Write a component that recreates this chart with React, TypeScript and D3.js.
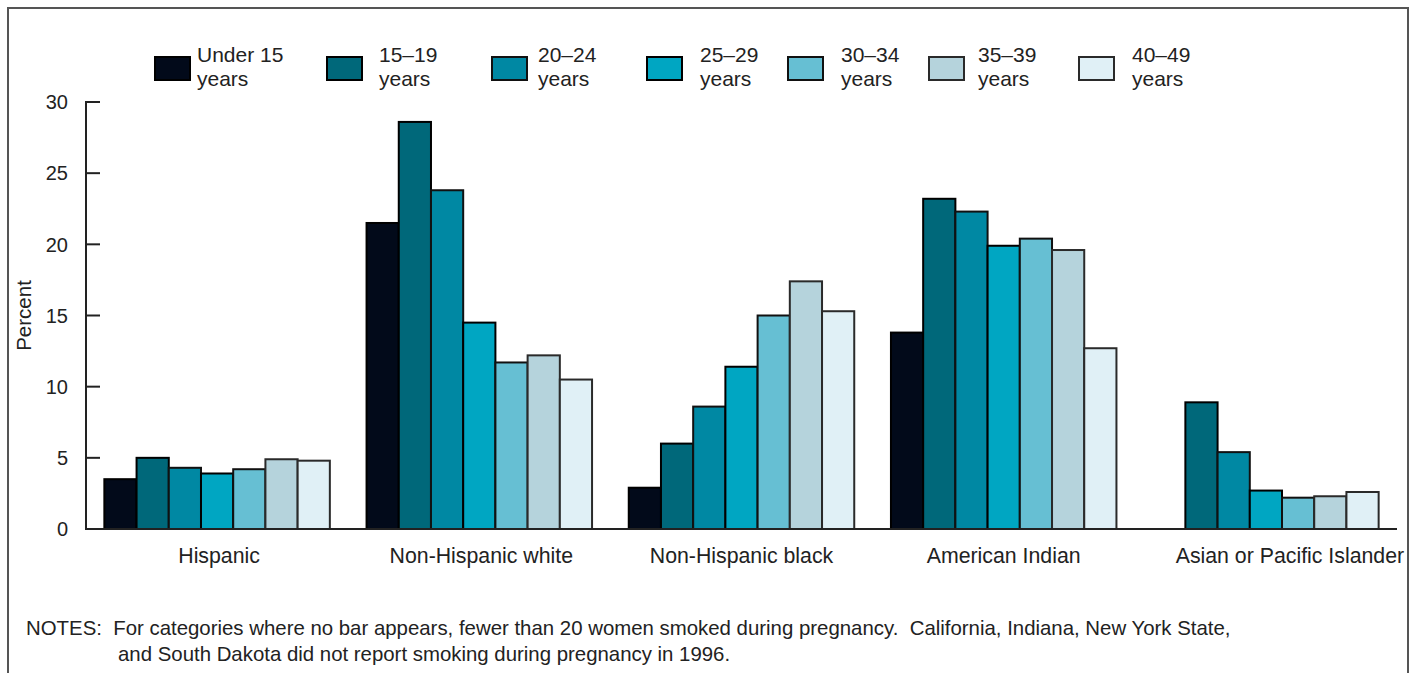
import * as d3 from 'd3';
import React from 'react';

const WIDTH = 1417;
const HEIGHT = 673;

const groups = ['Hispanic', 'Non-Hispanic white', 'Non-Hispanic black', 'American Indian', 'Asian or Pacific Islander'];
const ageGroups = ['Under 15', '15–19', '20–24', '25–29', '30–34', '35–39', '40–49'];

// percent of mothers who smoked, one array per age group, in group order (null = no bar)
const under15 = [3.5, 21.5, 2.9, 13.8, null];
const age15to19 = [5.0, 28.6, 6.0, 23.2, 8.9];
const age20to24 = [4.3, 23.8, 8.6, 22.3, 5.4];
const age25to29 = [3.9, 14.5, 11.4, 19.9, 2.7];
const age30to34 = [4.2, 11.7, 15.0, 20.4, 2.2];
const age35to39 = [4.9, 12.2, 17.4, 19.6, 2.3];
const age40to49 = [4.8, 10.5, 15.3, 12.7, 2.6];

const yTicks = [0, 5, 10, 15, 20, 25, 30];

const series = [under15, age15to19, age20to24, age25to29, age30to34, age35to39, age40to49];
const fills = ['#020a1a', '#00687a', '#0088a3', '#00a6c2', '#66bfd3', '#b5d3dc', '#e0f0f6'];
const strokes = ['#000', '#000', '#111', '#000', '#111', '#2a2a2a', '#2a2a2a'];

// legend layout (swatch left edge, text offset)
const legendX = [155, 327, 492, 647, 788, 929, 1079];
const legendTextDx = [42, 52, 46, 53, 53, 49, 53];
// the last group label sits a bit right of its band centre in the original
const labelDx = [2, 2, 0, 0, 24];

const FONT = '"Liberation Sans", Arial, Helvetica, sans-serif';
const INK = '#222';

export default function App() {
  const x0 = d3.scaleBand<string>().domain(groups).range([86, 1397]).paddingInner(0.14).paddingOuter(0.07);
  const x1 = d3.scaleBand<string>().domain(ageGroups).range([0, x0.bandwidth()]);
  const y = d3.scaleLinear().domain([0, 30]).range([529, 102]);

  const bars = groups.flatMap((g, gi) =>
    ageGroups.map((a, ai) => {
      const v = series[ai][gi];
      if (v === null) return null;
      return (
        <rect
          key={`${g}-${a}`}
          x={(x0(g) ?? 0) + (x1(a) ?? 0)}
          y={y(v)}
          width={x1.bandwidth()}
          height={y(0) - y(v)}
          fill={fills[ai]}
          stroke={strokes[ai]}
          strokeWidth={2}
        />
      );
    })
  );

  return (
    <svg width={WIDTH} height={HEIGHT} style={{ position: 'absolute', left: 0, top: 0 }} fontFamily={FONT}>
      <rect x={0} y={0} width={WIDTH} height={HEIGHT} fill="#fff" />
      {/* frame */}
      <path d={`M8,${HEIGHT} V8 H1408 V${HEIGHT}`} fill="none" stroke="#555" strokeWidth={2} />

      {/* legend */}
      {ageGroups.map((a, i) => (
        <g key={a}>
          <rect x={legendX[i]} y={57} width={35} height={23} fill={fills[i]} stroke={strokes[i]} strokeWidth={2} />
          <text x={legendX[i] + legendTextDx[i]} y={62} fontSize={21} fill={INK}>
            {a}
          </text>
          <text x={legendX[i] + legendTextDx[i]} y={86} fontSize={21} fill={INK}>
            years
          </text>
        </g>
      ))}

      {bars}

      {/* y axis */}
      <line x1={86} x2={86} y1={y(30) - 1} y2={y(0) + 1} stroke={INK} strokeWidth={2} />
      {yTicks.map(t => (
        <g key={t}>
          {t > 0 && <line x1={86} x2={100} y1={y(t)} y2={y(t)} stroke={INK} strokeWidth={2} />}
          <text x={68} y={y(t)} dy="0.36em" textAnchor="end" fontSize={20} fill={INK}>
            {t}
          </text>
        </g>
      ))}
      {/* x axis */}
      <line x1={85} x2={1397} y1={y(0)} y2={y(0)} stroke={INK} strokeWidth={2} />
      {groups.map((g, i) => (
        <text
          key={g}
          x={(x0(g) ?? 0) + x0.bandwidth() / 2 + labelDx[i]}
          y={563}
          textAnchor="middle"
          fontSize={21.3}
          fill={INK}
        >
          {g}
        </text>
      ))}
      <text transform={`translate(31,${y(15)}) rotate(-90)`} textAnchor="middle" fontSize={20.5} fill={INK}>
        Percent
      </text>

      {/* notes */}
      <text x={26} y={635} fontSize={20.4} fill={INK} style={{ whiteSpace: 'pre' }}>
        {'NOTES:  For categories where no bar appears, fewer than 20 women smoked during pregnancy.  California, Indiana, New York State,'}
      </text>
      <text x={118} y={661} fontSize={20.4} fill={INK}>
        and South Dakota did not report smoking during pregnancy in 1996.
      </text>
    </svg>
  );
}
